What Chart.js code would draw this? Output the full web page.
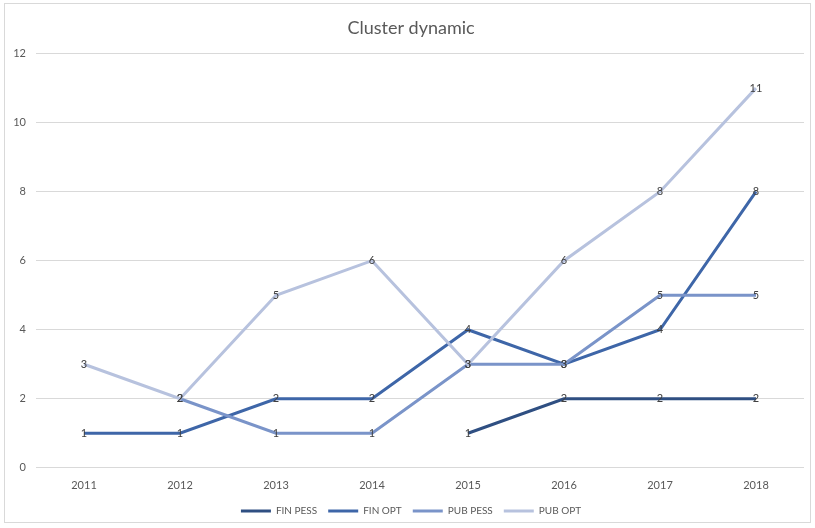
<!DOCTYPE html>
<html>
<head>
<meta charset="utf-8">
<script src="https://cdn.jsdelivr.net/npm/chart.js@4/dist/chart.umd.min.js"></script>
<style>
  html, body { margin: 0; padding: 0; background: #fff; }
  #wrap { width: 815px; height: 528px; position: relative; }
</style>
</head>
<body>
<div id="wrap"><canvas id="chart"></canvas></div>
<script>
// Chart data
const years = ["2011", "2012", "2013", "2014", "2015", "2016", "2017", "2018"];
const finPess = [null, null, null, null, 1, 2, 2, 2];
const finOpt = [1, 1, 2, 2, 4, 3, 4, 8];
const pubPess = [null, 2, 1, 1, 3, 3, 5, 5];
const pubOpt = [3, 2, 5, 6, 3, 6, 8, 11];

const FONT = "Lato, 'Open Sans', sans-serif";

// Draws the value on each point, like Excel data labels
const valueLabels = {
    id: "valueLabels",
    afterDatasetsDraw(chart) {
        const ctx = chart.ctx;
        ctx.save();
        ctx.font = "11px " + FONT;
        ctx.fillStyle = "#404040";
        ctx.textAlign = "center";
        ctx.textBaseline = "middle";
        chart.data.datasets.forEach((ds, i) => {
            const meta = chart.getDatasetMeta(i);
            meta.data.forEach((pt, j) => {
                if (ds.data[j] == null) return;
                ctx.fillText(ds.data[j], pt.x, pt.y);
            });
        });
        ctx.restore();
    }
};

// Thin frame around the chart area
const frame = {
    id: "frame",
    beforeDraw(chart) {
        const ctx = chart.ctx;
        ctx.save();
        ctx.strokeStyle = "#d9d9d9";
        ctx.lineWidth = 1;
        ctx.strokeRect(4.5, 3.5, 806, 519);
        ctx.restore();
    }
};

function series(label, data, color, order) {
    return {
        label: label,
        data: data,
        borderColor: color,
        backgroundColor: color,
        borderWidth: 3,
        pointRadius: 0,
        tension: 0,
        spanGaps: false,
        order: order
    };
}

new Chart(document.getElementById("chart"), {
    type: "line",
    data: {
        labels: years,
        datasets: [
            series("FIN PESS", finPess, "#2f4f82", 4),
            series("FIN OPT", finOpt, "#3e66a8", 3),
            series("PUB PESS", pubPess, "#7a94c9", 2),
            series("PUB OPT", pubOpt, "#b7c2de", 1)
        ]
    },
    options: {
        responsive: true,
        maintainAspectRatio: false,
        animation: false,
        layout: { padding: { left: 7, right: 0, top: 8, bottom: 2 } },
        plugins: {
            title: {
                display: true,
                text: "Cluster dynamic",
                color: "#595959",
                font: { family: FONT, size: 18, weight: "normal" },
                padding: { top: 9, bottom: 15 }
            },
            legend: {
                position: "bottom",
                labels: {
                    color: "#595959",
                    font: { family: FONT, size: 10 },
                    boxWidth: 30,
                    boxHeight: 3,
                    padding: 11,
                    sort: (a, b) => a.datasetIndex - b.datasetIndex,
                    generateLabels(chart) {
                        const items = Chart.defaults.plugins.legend.labels.generateLabels(chart);
                        items.forEach(it => { it.lineWidth = 0; });
                        return items;
                    }
                }
            },
            tooltip: { enabled: false }
        },
        scales: {
            x: {
                offset: true,
                grid: { display: false },
                border: { display: false },
                ticks: { color: "#595959", font: { family: FONT, size: 11 }, padding: 3 }
            },
            y: {
                min: 0,
                max: 12,
                ticks: { stepSize: 2, color: "#595959", font: { family: FONT, size: 11 }, padding: 10 },
                grid: { color: "#d9d9d9", drawTicks: false },
                border: { display: false },
                afterFit(scale) { scale.width = 29; }
            },
            // empty right axis, only keeps a margin on the right
            yRight: {
                type: "linear",
                position: "right",
                min: 0,
                max: 12,
                grid: { display: false },
                border: { display: false },
                ticks: { display: false },
                afterFit(scale) { scale.width = 11; }
            }
        }
    },
    plugins: [valueLabels, frame]
});
</script>
</body>
</html>
